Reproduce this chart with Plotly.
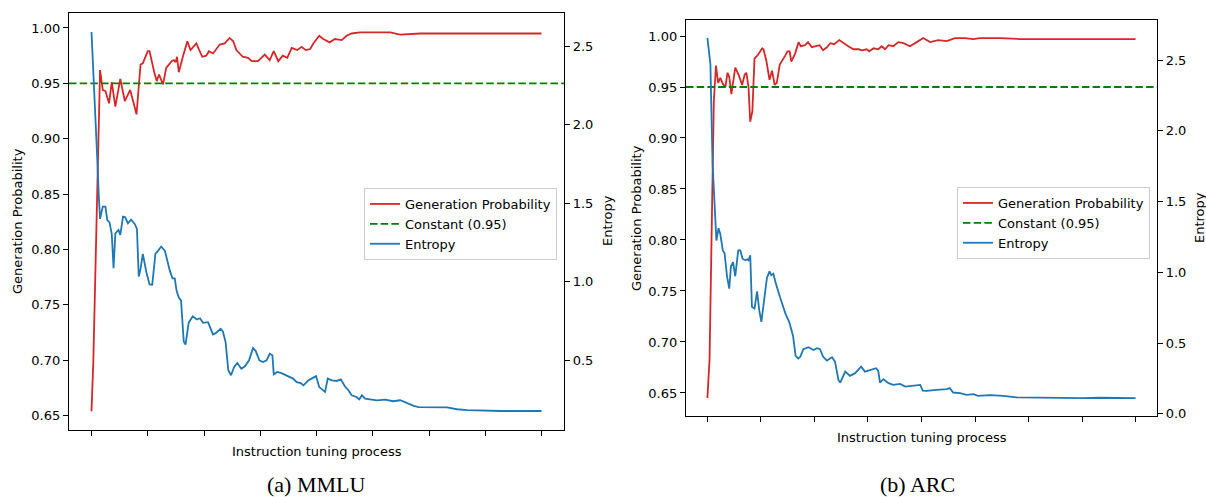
import plotly.graph_objects as go

# ---------------- data (progress of instruction tuning, 0-100) ----------------
mmlu_prob_steps = [0.0, 0.4, 1.9, 2.5, 3.1, 3.9, 4.5, 5.3, 6.4, 7.4, 8.6, 10.0, 10.9, 11.4, 12.5, 12.9,
                   14.0, 14.5, 15.0, 15.9, 16.6, 17.8, 18.3, 18.7, 19.0, 19.4, 20.3, 21.3, 22.0, 23.3,
                   24.6, 25.5, 26.1, 27.0, 28.5, 29.6, 30.7, 31.5, 32.2, 33.6, 34.8, 35.6, 37.0, 38.5,
                   39.6, 40.5, 41.5, 42.5, 43.5, 44.5, 45.7, 46.7, 47.6, 48.6, 49.3, 50.6, 51.5, 52.9,
                   54.1, 55.6, 56.7, 57.8, 59.7, 63.0, 66.4, 68.6, 73.1, 79.7, 86.4, 93.1, 100.0]
mmlu_prob = [0.654, 0.698, 0.962, 0.944, 0.943, 0.932, 0.951, 0.929, 0.954, 0.934, 0.944, 0.922, 0.967,
             0.968, 0.979, 0.979, 0.959, 0.952, 0.958, 0.949, 0.964, 0.970, 0.971, 0.969, 0.974, 0.960,
             0.974, 0.988, 0.980, 0.986, 0.974, 0.975, 0.979, 0.977, 0.985, 0.986, 0.991, 0.988, 0.980,
             0.974, 0.973, 0.970, 0.970, 0.976, 0.971, 0.979, 0.970, 0.975, 0.973, 0.982, 0.980, 0.983,
             0.980, 0.981, 0.986, 0.993, 0.990, 0.987, 0.990, 0.989, 0.993, 0.995, 0.996, 0.996, 0.996,
             0.994, 0.995, 0.995, 0.995, 0.995, 0.995]

mmlu_entropy_steps = [0.0, 0.6, 1.3, 1.6, 1.9, 2.5, 3.1, 3.5, 4.0, 4.5, 4.9, 5.3, 6.0, 6.4, 7.0, 7.5,
                      8.1, 8.8, 9.6, 10.1, 10.5, 10.9, 11.4, 12.2, 12.9, 13.5, 14.2, 14.8, 15.5, 16.3,
                      17.4, 18.0, 18.5, 18.9, 19.4, 19.9, 20.5, 20.9, 21.6, 22.5, 23.4, 24.1, 24.8, 25.9,
                      27.0, 27.6, 28.7, 29.2, 29.8, 30.4, 31.0, 31.7, 32.4, 33.3, 34.1, 35.0, 35.9, 36.5,
                      37.3, 38.1, 38.9, 39.6, 40.2, 40.5, 41.3, 42.2, 43.4, 44.8, 45.6, 46.5, 47.1, 48.2,
                      48.9, 49.9, 50.6, 51.9, 52.5, 53.4, 54.5, 55.4, 56.3, 57.1, 57.8, 58.9, 59.5, 60.1,
                      60.8, 61.9, 63.4, 65.3, 67.0, 68.6, 70.1, 71.6, 72.7, 76.0, 79.0, 81.2, 83.5, 90.9,
                      100.0]
mmlu_entropy = [2.589, 2.25, 1.770, 1.558, 1.400, 1.478, 1.478, 1.393, 1.378, 1.304, 1.086, 1.308, 1.330,
                1.298, 1.414, 1.410, 1.372, 1.395, 1.368, 1.336, 1.033, 1.082, 1.178, 1.061, 0.983, 0.981,
                1.178, 1.198, 1.224, 1.198, 1.071, 1.022, 1.022, 0.944, 0.90, 0.88, 0.62, 0.60, 0.74,
                0.78, 0.76, 0.768, 0.739, 0.743, 0.665, 0.673, 0.701, 0.684, 0.616, 0.437, 0.405, 0.458,
                0.483, 0.447, 0.462, 0.500, 0.578, 0.559, 0.500, 0.489, 0.500, 0.542, 0.532, 0.411, 0.426,
                0.419, 0.405, 0.384, 0.362, 0.356, 0.341, 0.373, 0.384, 0.400, 0.330, 0.299, 0.384, 0.373,
                0.369, 0.379, 0.335, 0.310, 0.278, 0.267, 0.252, 0.278, 0.257, 0.252, 0.246, 0.250, 0.240,
                0.246, 0.229, 0.210, 0.203, 0.201, 0.201, 0.189, 0.183, 0.178, 0.178]

arc_prob_steps = [0.0, 0.5, 1.5, 2.0, 2.5, 3.0, 3.6, 4.2, 4.7, 5.1, 5.6, 6.0, 6.5, 7.3, 8.1, 8.7, 9.1,
                  9.6, 10.0, 10.5, 11.0, 11.7, 12.8, 13.1, 13.8, 14.5, 15.1, 15.7, 16.2, 16.9, 17.4, 18.2,
                  18.7, 19.2, 19.6, 20.5, 21.3, 21.8, 22.8, 23.5, 24.4, 25.6, 26.2, 27.0, 27.9, 28.7,
                  29.6, 30.8, 31.8, 32.9, 34.1, 35.3, 36.1, 37.2, 37.8, 38.8, 39.9, 40.7, 41.5, 42.3,
                  43.4, 44.6, 45.8, 47.3, 48.9, 50.4, 52.0, 53.9, 55.9, 57.8, 60.1, 62.1, 63.6, 68.3,
                  73.0, 80.0, 87.0, 94.2, 100.0]
arc_prob = [0.645, 0.683, 0.936, 0.971, 0.954, 0.959, 0.953, 0.950, 0.964, 0.960, 0.943, 0.957, 0.969,
            0.962, 0.952, 0.962, 0.964, 0.950, 0.916, 0.926, 0.978, 0.981, 0.988, 0.987, 0.975, 0.957,
            0.966, 0.952, 0.954, 0.972, 0.975, 0.981, 0.985, 0.985, 0.975, 0.983, 0.994, 0.990, 0.991,
            0.994, 0.989, 0.990, 0.991, 0.986, 0.989, 0.993, 0.992, 0.996, 0.993, 0.990, 0.987, 0.987,
            0.986, 0.987, 0.985, 0.988, 0.987, 0.990, 0.987, 0.991, 0.990, 0.994, 0.993, 0.990, 0.994,
            0.998, 0.994, 0.996, 0.995, 0.998, 0.998, 0.997, 0.998, 0.998, 0.997, 0.997, 0.997, 0.997,
            0.997]

arc_entropy_steps = [0.0, 0.7, 1.2, 1.7, 2.1, 2.6, 3.0, 3.6, 4.0, 4.6, 5.1, 5.5, 6.0, 6.5, 7.2, 7.7,
                     8.2, 8.9, 9.3, 9.6, 10.0, 10.4, 11.0, 11.6, 12.1, 12.6, 13.3, 13.9, 14.5, 14.9,
                     15.4, 15.9, 17.0, 18.2, 19.1, 20.0, 20.6, 21.2, 21.7, 22.4, 23.6, 24.8, 25.6, 26.3,
                     27.0, 27.9, 29.1, 29.8, 30.6, 31.0, 32.2, 33.3, 34.5, 35.9, 36.8, 38.0, 39.4, 39.9,
                     40.3, 41.1, 42.3, 43.4, 45.0, 46.2, 47.7, 49.7, 50.3, 51.2, 53.5, 55.9, 56.6, 57.4,
                     59.0, 60.5, 62.1, 63.2, 66.0, 69.1, 72.2, 76.1, 79.2, 83.8, 87.7, 91.6, 95.5, 100.0]
arc_entropy = [2.657, 2.47, 1.77, 1.484, 1.225, 1.312, 1.272, 1.155, 1.136, 0.967, 0.885, 1.042, 1.072,
               0.972, 1.155, 1.155, 1.096, 1.085, 1.092, 1.085, 1.120, 0.756, 0.744, 0.866, 0.732, 0.650,
               0.80, 0.96, 1.007, 0.98, 0.99, 0.93, 0.82, 0.71, 0.65, 0.55, 0.41, 0.39, 0.404, 0.456,
               0.470, 0.451, 0.463, 0.456, 0.404, 0.375, 0.399, 0.368, 0.239, 0.220, 0.298, 0.268, 0.287,
               0.333, 0.298, 0.310, 0.322, 0.303, 0.220, 0.244, 0.216, 0.204, 0.211, 0.192, 0.197, 0.204,
               0.164, 0.162, 0.169, 0.174, 0.181, 0.150, 0.146, 0.134, 0.139, 0.127, 0.131, 0.127, 0.115,
               0.113, 0.115, 0.113, 0.111, 0.113, 0.111, 0.111]

CONSTANT = 0.95
x_ticks = [0, 12.5, 25, 37.5, 50, 62.5, 75, 87.5, 100]
prob_ticks = [0.65, 0.70, 0.75, 0.80, 0.85, 0.90, 0.95, 1.00]
entropy_ticks_mmlu = [0.5, 1.0, 1.5, 2.0, 2.5]
entropy_ticks_arc = [0.0, 0.5, 1.0, 1.5, 2.0, 2.5]

# ---------------- layout helpers ----------------
W, H = 1206, 497
def px(x):
    return x / W
def py(y):
    return 1 - y / H

RED = "#d62728"
BLUE = "#1f77b4"
GREEN = "#008000"
FONT = "DejaVu Sans"
X_RANGE = [-5, 105]
LW = 1.8

fig = go.Figure()

def add_panel(xa, ya, ya2, psteps, pvals, esteps, evals, legend):
    fig.add_trace(go.Scatter(x=psteps, y=pvals, mode="lines", name="Generation Probability",
                             line=dict(color=RED, width=LW), xaxis=xa, yaxis=ya, legend=legend))
    fig.add_trace(go.Scatter(x=X_RANGE, y=[CONSTANT, CONSTANT], mode="lines", name="Constant (0.95)",
                             line=dict(color=GREEN, width=LW, dash="7.5px,3.2px"),
                             xaxis=xa, yaxis=ya, legend=legend))
    fig.add_trace(go.Scatter(x=esteps, y=evals, mode="lines", name="Entropy",
                             line=dict(color=BLUE, width=LW), xaxis=xa, yaxis=ya2, legend=legend))

add_panel("x", "y", "y2", mmlu_prob_steps, mmlu_prob, mmlu_entropy_steps, mmlu_entropy, "legend")
add_panel("x2", "y3", "y4", arc_prob_steps, arc_prob, arc_entropy_steps, arc_entropy, "legend2")

axis_common = dict(showline=True, linecolor="black", linewidth=1.2, ticks="outside", ticklen=5,
                   tickwidth=1, tickcolor="black", showgrid=False, zeroline=False,
                   tickfont=dict(family=FONT, size=13, color="black"))

xcommon = dict(axis_common, range=X_RANGE, tickvals=x_ticks, ticktext=[""] * len(x_ticks), mirror=True)

legend_common = dict(font=dict(family=FONT, size=13, color="black"), bgcolor="rgba(255,255,255,0.85)",
                     bordercolor="#cccccc", borderwidth=1, xanchor="right", yanchor="top",
                     tracegroupgap=0, itemwidth=30)

fig.update_layout(
    width=W, height=H, paper_bgcolor="white", plot_bgcolor="white",
    margin=dict(l=0, r=0, t=0, b=0, autoexpand=False),
    showlegend=True,
    xaxis=dict(xcommon, domain=[px(69), px(564)], anchor="y"),
    yaxis=dict(axis_common, domain=[py(430), py(13)], anchor="x", range=[0.637, 1.0135],
               tickvals=prob_ticks, tickformat=".2f"),
    yaxis2=dict(axis_common, overlaying="y", side="right", anchor="x", range=[0.057, 2.710],
                tickvals=entropy_ticks_mmlu, tickformat=".1f"),
    xaxis2=dict(xcommon, domain=[px(686), px(1157)], anchor="y3"),
    yaxis3=dict(axis_common, domain=[py(416), py(20)], anchor="x2", range=[0.6274, 1.0157],
                tickvals=prob_ticks, tickformat=".2f"),
    yaxis4=dict(axis_common, overlaying="y3", side="right", anchor="x2", range=[-0.016, 2.784],
                tickvals=entropy_ticks_arc, tickformat=".1f"),
    legend=dict(legend_common, x=px(557), y=py(188)),
    legend2=dict(legend_common, x=px(1150), y=py(187)),
)

def label(text, x, y, size=13, angle=0, family=FONT):
    fig.add_annotation(text=text, x=px(x), y=py(y), xref="paper", yref="paper", showarrow=False,
                       textangle=angle, xanchor="center", yanchor="middle",
                       font=dict(family=family, size=size, color="black"))

label("Instruction tuning process", 316.5, 451)
label("Instruction tuning process", 921.5, 437)
label("Generation Probability", 17, 221, angle=-90)
label("Generation Probability", 636, 218, angle=-90)
label("Entropy", 607, 221, angle=-90)
label("Entropy", 1199, 218, angle=-90)
label("(a) MMLU", 316, 484, size=22, family="Liberation Serif")
label("(b) ARC", 917, 484, size=22, family="Liberation Serif")

fig.write_html("out.html", config={"displayModeBar": False},
               post_script="document.body.style.margin='0px';document.body.style.overflow='hidden';")
